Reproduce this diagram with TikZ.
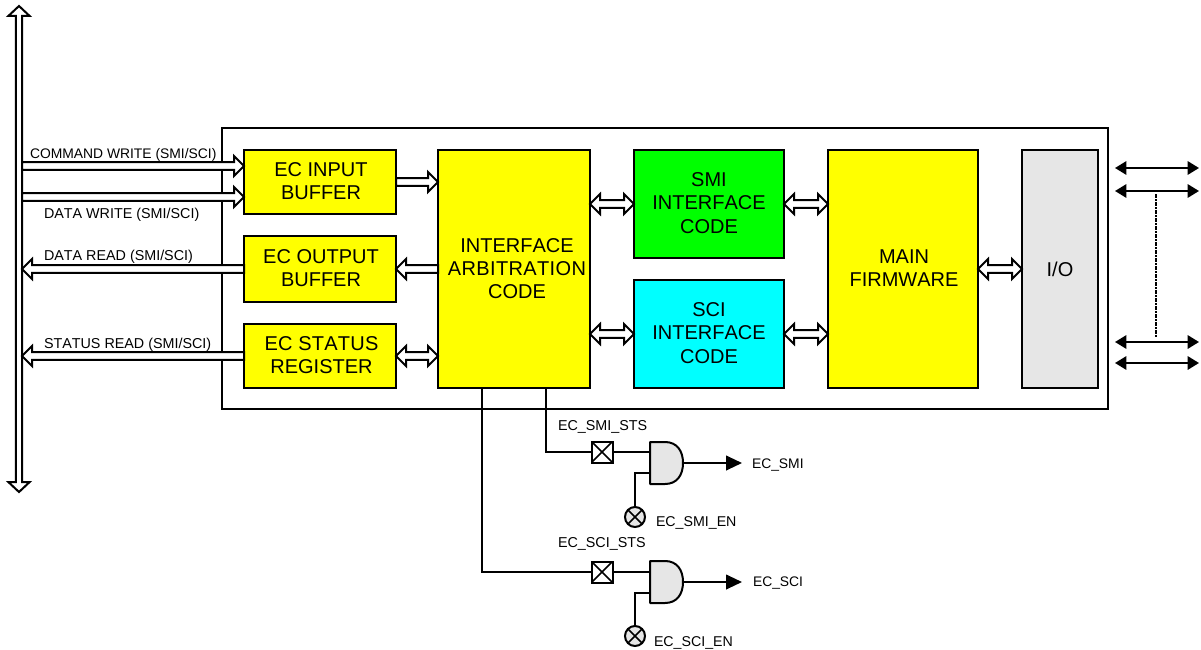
\documentclass[tikz,border=0pt]{standalone}
\usepackage{fontspec}
\setmainfont[Kerning=Off]{Liberation Sans}
\usetikzlibrary{calc,arrows.meta}
\def\shw{2.85pt}\def\thw{7.5pt}\def\hl{7.5pt}
\definecolor{gatefill}{HTML}{E6E6E6}
\definecolor{pureyellow}{RGB}{255,255,0}
\definecolor{puregreen}{RGB}{0,255,0}
\definecolor{purecyan}{RGB}{0,255,255}
\tikzset{
  box/.style={draw=black,line width=1.5pt,anchor=north west,inner sep=0pt,outer sep=0pt,align=center,
     font=\fontsize{15}{17.5}\selectfont},
  hollow/.style={draw=black,fill=white,line width=1.5pt,line join=miter},
  wire/.style={draw=black,line width=1.5pt},
  sig/.style={draw=black,line width=1.5pt,-{Triangle[length=12pt,width=11pt]}},
  io arrow/.style={draw=black,line width=1.5pt,{Triangle[length=8.5pt,width=10pt]}-{Triangle[length=8.5pt,width=10pt]}},
  lab/.style={inner sep=0pt,outer sep=0pt,font=\fontsize{10.4}{12}\selectfont,anchor=west},
  labw/.style={lab,font=\fontsize{10.75}{12}\selectfont},
  labn/.style={lab,font=\fontsize{10.65}{12}\selectfont},
  xbox/.style={draw=black,line width=1.5pt,fill=white,minimum size=15.75pt,inner sep=0pt,outer sep=0pt,
     path picture={\draw[line width=1.1pt] (path picture bounding box.north west)--(path picture bounding box.south east)
       (path picture bounding box.north east)--(path picture bounding box.south west);}},
  xcirc/.style={circle,draw=black,line width=1.5pt,fill=gatefill,minimum size=11pt,inner sep=0pt,outer sep=0pt,
     path picture={\draw[line width=1.1pt] (path picture bounding box.north west)--(path picture bounding box.south east)
       (path picture bounding box.north east)--(path picture bounding box.south west);}},
  gatespot/.style={inner sep=0pt,outer sep=0pt,minimum width=24.75pt,minimum height=31.5pt,anchor=west},
  gateshape/.style={draw=black,line width=1.5pt,fill=gatefill,line join=round},
}
\newcommand\hollowto[2]{%
  \coordinate (T) at ($(#2)!\hl!(#1)$);
  \path[hollow] ($(#1)!\shw!90:(#2)$) -- ($(T)!\shw!-90:(#1)$) -- ($(T)!\thw!-90:(#1)$) -- (#2)
     -- ($(T)!\thw!90:(#1)$) -- ($(T)!\shw!90:(#1)$) -- ($(#1)!\shw!-90:(#2)$) -- cycle;}
\newcommand\hollowboth[2]{%
  \coordinate (T) at ($(#2)!\hl!(#1)$);
  \coordinate (S) at ($(#1)!\hl!(#2)$);
  \path[hollow] (#1) -- ($(S)!\thw!90:(#2)$) -- ($(S)!\shw!90:(#2)$) -- ($(T)!\shw!-90:(#1)$) -- ($(T)!\thw!-90:(#1)$) -- (#2)
     -- ($(T)!\thw!90:(#1)$) -- ($(T)!\shw!90:(#1)$) -- ($(S)!\shw!-90:(#2)$) -- ($(S)!\thw!-90:(#2)$) -- cycle;}
\newcommand\andshape[1]{%
  \path[gateshape] (#1.north west) -- ($(#1.north west)+(15,0)$)
    .. controls ($(#1.north west)+(27,0)$) and ($(#1.east)+(0,-12)$) .. (#1.east)
    .. controls ($(#1.east)+(0,12)$) and ($(#1.south west)+(27,0)$) .. ($(#1.south west)+(15,0)$)
    -- (#1.south west) -- cycle;}
\begin{document}
\begin{tikzpicture}[x=.75pt,y=-.75pt]
\useasboundingbox (0,0) rectangle (1201,649);
% bus
\coordinate (bustop) at (19,6);
\coordinate (busbot) at (19,492);
\begingroup\def\shw{2.4pt}\def\thw{8pt}\hollowboth{bustop}{busbot}\endgroup
% outer frame
\node[box,minimum width=664.5pt,minimum height=210.75pt] (frame) at (222,128) {};
% blocks
\node[box,fill=pureyellow,minimum width=114pt,minimum height=48pt] (inbuf) at (244,150) {};
\node[box,fill=pureyellow,minimum width=114pt,minimum height=49.5pt] (outbuf) at (244,236) {};
\node[box,fill=pureyellow,minimum width=114pt,minimum height=48pt] (status) at (244,324) {};
\node[box,fill=pureyellow,minimum width=114pt,minimum height=178.5pt] (arb) at (438,150) {};
\node[box,fill=puregreen,minimum width=112.5pt,minimum height=81pt] (smi) at (634,150) {};
\node[box,fill=purecyan,minimum width=112.5pt,minimum height=81pt] (sci) at (634,280) {};
\node[box,fill=pureyellow,minimum width=112.5pt,minimum height=178.5pt] (main) at (828,150) {};
\node[box,fill=gatefill,minimum width=57pt,minimum height=178.5pt] (io) at (1022,150) {};
% block texts
\node[box,anchor=center,draw=none] at ($(inbuf.center)+(1,-1)$) {EC INPUT\\BUFFER};
\node[box,anchor=center,draw=none] at ($(outbuf.center)+(1,-1)$) {EC OUTPUT\\BUFFER};
\node[box,anchor=center,draw=none] at ($(status.center)+(1.5,-1)$) {{\addfontfeatures{LetterSpace=1.2}EC STATUS}\\REGISTER};
\node[box,anchor=center,draw=none] at ($(arb.center)+(3,-.5)$) {INTERFACE\\{\addfontfeatures{LetterSpace=1.8}ARBITRATION}\\CODE};
\node[box,anchor=center,draw=none] at ($(smi.center)+(0,-1)$) {SMI\\INTERFACE\\CODE};
\node[box,anchor=center,draw=none] at ($(sci.center)+(0,-1)$) {SCI\\INTERFACE\\CODE};
\node[box,anchor=center,draw=none] at ($(main.center)+(1,-1)$) {MAIN\\FIRMWARE};
\node[box,anchor=center,draw=none] at (io.center) {I/O};
% bus side ports
\coordinate (p1) at (22,166);
\coordinate (p2) at (22,197);
\coordinate (t1) at (244,166);
\coordinate (t2) at (244,197);
\hollowto{p1}{t1}
\hollowto{p2}{t2}
\coordinate (p3) at (22,269);
\coordinate (p4) at (22,356);
\hollowto{outbuf.west}{p3}
\hollowto{status.west}{p4}
% block links
\hollowto{inbuf.east}{arb.west|-inbuf.east}
\hollowto{arb.west|-outbuf.east}{outbuf.east}
\hollowboth{status.east}{arb.west|-status.east}
\hollowboth{arb.east|-smi.west}{smi.west}
\hollowboth{arb.east|-sci.west}{sci.west}
\hollowboth{smi.east}{main.west|-smi.east}
\hollowboth{sci.east}{main.west|-sci.east}
\hollowboth{main.east}{io.west}
% labels on bus arrows
\node[lab] at (30,155) {COMMAND WRITE (SMI/SCI)};
\node[labw] at (44,215) {DATA WRITE (SMI/SCI)};
\node[labw] at (44,257) {DATA READ (SMI/SCI)};
\node[labw] at (44,345) {STATUS READ (SMI/SCI)};
% right-hand I/O lines
\coordinate (ra1) at (1115,168); \coordinate (rb1) at (1199,168);
\coordinate (ra2) at (1115,191); \coordinate (rb2) at (1199,191);
\coordinate (ra3) at (1115,342); \coordinate (rb3) at (1199,342);
\coordinate (ra4) at (1115,363); \coordinate (rb4) at (1199,363);
\draw[io arrow] (ra1) -- (rb1);
\draw[io arrow] (ra2) -- (rb2);
\draw[io arrow] (ra3) -- (rb3);
\draw[io arrow] (ra4) -- (rb4);
\coordinate (dt) at (1156,194);
\coordinate (db) at (1156,337);
\draw[line width=1.3pt,dash pattern=on 3pt off 1pt on 1pt off 1pt] (dt) -- (db);
% SMI logic
\node[xbox] (x1) at (602,452) {};
\node[gatespot] (g1) at (650,463) {};
\node[xcirc,minimum size=15pt] (c1) at (635,517) {};
\coordinate (smo) at (546,388);
\coordinate (so1) at (742,463);
\draw[wire] (smo) |- (x1.west);
\draw[wire] (x1.east) -- (650,452);
\draw[wire] (c1.north) |- (650,473);
\draw[sig] (g1.east) -- (so1);
\andshape{g1}
\node[labw] at (558,427) {EC\_SMI\_STS};
\node[labn] at (656,523) {EC\_SMI\_EN};
\node[lab] at (752,465) {EC\_SMI};
% SCI logic
\node[xbox] (x2) at (602,572) {};
\node[gatespot] (g2) at (650,582) {};
\node[xcirc,minimum size=15pt] (c2) at (635,636) {};
\coordinate (sco) at (482,388);
\coordinate (so2) at (742,582);
\draw[wire] (sco) |- (x2.west);
\draw[wire] (x2.east) -- (650,572);
\draw[wire] (c2.north) |- (650,593);
\draw[sig] (g2.east) -- (so2);
\andshape{g2}
\node[labw] at (558,544) {EC\_SCI\_STS};
\node[labn] at (654,643) {EC\_SCI\_EN};
\node[lab] at (753,583) {EC\_SCI};
\end{tikzpicture}
\end{document}
